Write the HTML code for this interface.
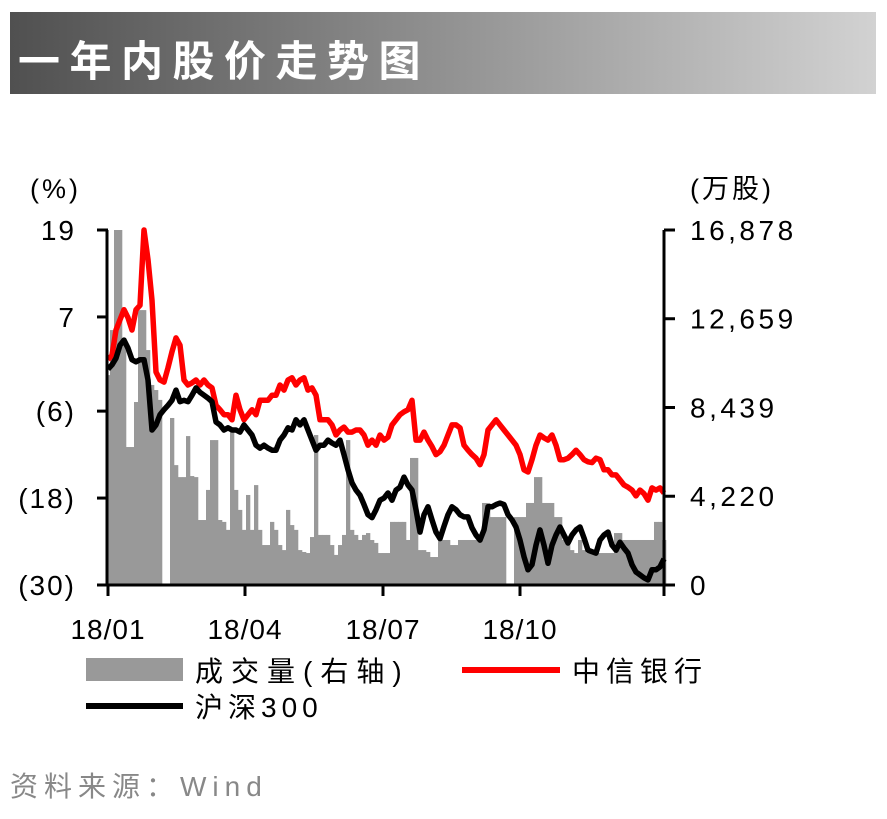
<!DOCTYPE html>
<html><head><meta charset="utf-8"><style>
body{margin:0;background:#fff;width:887px;height:814px;overflow:hidden;font-family:"Liberation Sans","Noto Sans CJK SC",sans-serif}
</style></head><body>
<svg id="chart" width="887" height="814" xmlns="http://www.w3.org/2000/svg" font-family="Liberation Sans, Noto Sans CJK SC, sans-serif">
<defs><linearGradient id="g" x1="0" x2="1"><stop offset="0" stop-color="#505050"/><stop offset="1" stop-color="#d2d2d2"/></linearGradient></defs>
<rect x="10" y="12" width="866" height="82" fill="url(#g)"/>
<text x="18" y="76" fill="#fff" font-size="42" font-weight="bold" letter-spacing="9.5" font-family="Noto Sans CJK SC, sans-serif">一年内股价走势图</text>
<text x="30" y="198" font-size="27" letter-spacing="3">(%)</text>
<text x="690" y="198" font-size="27" letter-spacing="3">(万股)</text>
<g id="bars"></g><g id="lines"></g><g id="axes"></g>
<rect x="86" y="658" width="97" height="23" fill="#999"/>
<text x="195" y="681" font-size="28" letter-spacing="8">成交量(右轴)</text>
<line x1="462" y1="670" x2="560" y2="670" stroke="#f00" stroke-width="6"/>
<text x="572" y="681" font-size="28" letter-spacing="6">中信银行</text>
<line x1="86" y1="706" x2="183" y2="706" stroke="#000" stroke-width="6"/>
<text x="195" y="717" font-size="28" letter-spacing="5">沪深300</text>
<text x="10" y="796" font-size="28" fill="#888" letter-spacing="6">资料来源：Wind</text>
</svg>
<script>
const leftTicks=[19,7,-6,-18,-30];
const leftTickLabels=["19","7","(6)","(18)","(30)"];
const rightTicks=[16878,12659,8439,4220,0];
const rightTickLabels=["16,878","12,659","8,439","4,220","0"];
const xTickLabels=["18/01","18/04","18/07","18/10"];
const citic=[1.1,1.7,5.2,6.6,8.0,6.9,5.2,8.0,8.6,19,14.9,9.3,-0.6,-1.7,-2.0,0.0,2.2,4.1,3.1,-1.7,-2.4,-2.1,-1.7,-2.4,-1.7,-2.4,-2.8,-5.2,-5.8,-6.5,-6.5,-7.2,-3.8,-5.8,-7.2,-6.5,-5.8,-6.5,-4.5,-4.5,-4.5,-3.8,-3.8,-2.4,-3.1,-1.7,-1.4,-2.4,-1.7,-1.4,-3.1,-2.8,-3.8,-7.2,-7.2,-7.2,-7.9,-9.3,-8.6,-8.2,-8.9,-8.9,-8.6,-8.6,-9.3,-10.7,-10.0,-10.7,-9.3,-10.0,-9.6,-7.9,-7.2,-6.5,-6.1,-5.8,-4.5,-10.0,-10.0,-8.9,-10.0,-10.9,-12.0,-11.6,-10.7,-9.3,-7.9,-7.9,-8.3,-10.7,-11.4,-12.0,-12.5,-13.4,-12.0,-8.6,-7.9,-7.2,-7.9,-8.6,-9.3,-10.0,-10.7,-12.0,-14.1,-14.4,-12.7,-10.7,-9.3,-9.7,-10.0,-9.3,-10.7,-12.7,-12.7,-12.5,-12.0,-11.4,-12.0,-12.7,-13.0,-13.1,-12.5,-12.7,-14.1,-14.1,-14.8,-14.8,-15.5,-16.2,-16.5,-16.9,-17.7,-16.9,-17.4,-18.3,-16.6,-16.9,-16.6,-17.3];
const hs300=[-0.2,0.4,1.3,3.1,3.8,2.7,1.1,0.8,1.1,1.1,-1.7,-8.6,-7.9,-6.5,-5.8,-5.2,-4.5,-3.1,-4.7,-4.5,-4.7,-3.8,-2.8,-3.4,-3.8,-4.2,-4.7,-7.5,-7.9,-8.6,-8.3,-8.6,-8.6,-8.9,-7.9,-8.6,-9.3,-10.7,-11.1,-10.7,-11.1,-11.4,-11.4,-10.0,-9.3,-8.3,-8.6,-7.2,-7.9,-7.2,-8.6,-10.0,-11.4,-10.7,-10.7,-10.0,-10.4,-10.7,-10.0,-12.0,-14.1,-15.9,-16.9,-17.6,-18.9,-20.3,-20.7,-19.6,-18.3,-18.0,-17.3,-18.3,-16.9,-16.5,-15.1,-16.2,-16.9,-19.6,-22.7,-20.3,-19.2,-21.0,-22.7,-23.6,-21.9,-20.3,-19.2,-19.6,-20.3,-20.6,-20.6,-22.1,-23.1,-23.8,-22.4,-19.2,-19.2,-18.9,-18.7,-18.9,-20.3,-21.0,-22.0,-23.8,-26.1,-27.9,-27.2,-24.5,-22.4,-24.5,-27.0,-24.5,-23.1,-22.0,-23.1,-24.2,-23.1,-22.4,-22.0,-23.5,-25.2,-25.4,-25.6,-23.8,-23.1,-22.7,-24.5,-25.2,-24.1,-24.9,-25.6,-27.2,-28.2,-28.6,-29.0,-29.3,-27.9,-27.9,-27.5,-26.4];
const volume=[9980,12120,16878,16878,11650,6560,6560,8700,13070,13070,11170,9510,9270,8800,0,0,7940,5700,5130,5130,7080,5180,5130,3090,3090,4520,6890,6890,3090,3000,2620,7370,4520,3570,2620,4280,2620,4750,2620,1900,1900,3000,2620,1900,1660,3570,2850,2620,1660,1570,1520,2280,7130,2380,2380,2380,1900,1430,1900,2380,6890,2620,2380,2140,2380,2470,2140,2000,1520,1520,1520,3000,3000,3000,3000,2140,6040,6040,1660,1660,1570,1330,1330,2140,2140,2140,1900,1900,2140,2140,2140,2140,2140,2140,3900,3900,3230,3230,3230,3230,0,0,3230,3230,3230,3900,3900,5130,5130,3900,3900,3900,3230,3230,2140,1900,1660,1520,2140,1660,1520,1520,1520,1520,1520,1520,1520,2470,2470,2140,2140,2140,2140,2140,2140,2140,2140,3000,3000,2140];
const X0=108,X1=664,Y0=230,Y1=585;
const NS="http://www.w3.org/2000/svg";
const n=citic.length;
function xs(i){return X0+(X1-X0)*i/(n-1);}
function yl(v){return Y0+(19-v)/49*(Y1-Y0);}
function yr(v){return Y1-v/16878*(Y1-Y0);}
function mk(t,a,p){const e=document.createElementNS(NS,t);for(const k in a)e.setAttribute(k,a[k]);p.appendChild(e);return e;}
const bars=document.getElementById('bars'),lines=document.getElementById('lines'),axes=document.getElementById('axes');
const bw=(X1-X0)/(n-1);
volume.forEach((v,i)=>{const y=Math.max(Y0,yr(v));
const r=mk('rect',{x:xs(i)-bw/2,y:y,width:bw+0.3,height:Y1-y,fill:'#999'},bars);

});
function line(arr,col,name){const d=arr.map((v,i)=>(i?'L':'M')+xs(i).toFixed(1)+' '+yl(v).toFixed(1)).join(' ');
const p=mk('path',{d:d,fill:'none',stroke:col,'stroke-width':5.5,'stroke-linejoin':'round'},lines);

}
line(citic,'#f00','citic-line');
line(hs300,'#000','hs300-line');
mk('line',{x1:X0-1,y1:Y0,x2:X0-1,y2:Y1+1,stroke:'#000','stroke-width':3},axes);
mk('line',{x1:X1,y1:Y0,x2:X1,y2:Y1+1,stroke:'#000','stroke-width':3},axes);
mk('line',{x1:X0-1,y1:Y1,x2:X1,y2:Y1,stroke:'#000','stroke-width':3},axes);
leftTicks.forEach((v,i)=>{const y=yl(v);mk('line',{x1:97,y1:y,x2:X0,y2:y,stroke:'#000','stroke-width':3},axes);
const t=mk('text',{x:76,y:y+10,'font-size':28,'text-anchor':'end','letter-spacing':2},axes);t.textContent=leftTickLabels[i];

});
rightTicks.forEach((v,i)=>{const y=yr(v);mk('line',{x1:X1,y1:y,x2:675,y2:y,stroke:'#000','stroke-width':3},axes);
const t=mk('text',{x:690,y:y+10,'font-size':28,'letter-spacing':3.5},axes);t.textContent=rightTickLabels[i];

});
const xTickPos=[108,245,383,520];
xTickLabels.forEach((lab,i)=>{const xx=xTickPos[i];
mk('line',{x1:xx,y1:Y1,x2:xx,y2:596,stroke:'#000','stroke-width':3},axes);
const t=mk('text',{x:xx,y:639,'font-size':28,'text-anchor':'middle','letter-spacing':1},axes);t.textContent=lab;

});
mk('line',{x1:X1,y1:Y1,x2:X1,y2:596,stroke:'#000','stroke-width':3},axes);
</script>
</body></html>
